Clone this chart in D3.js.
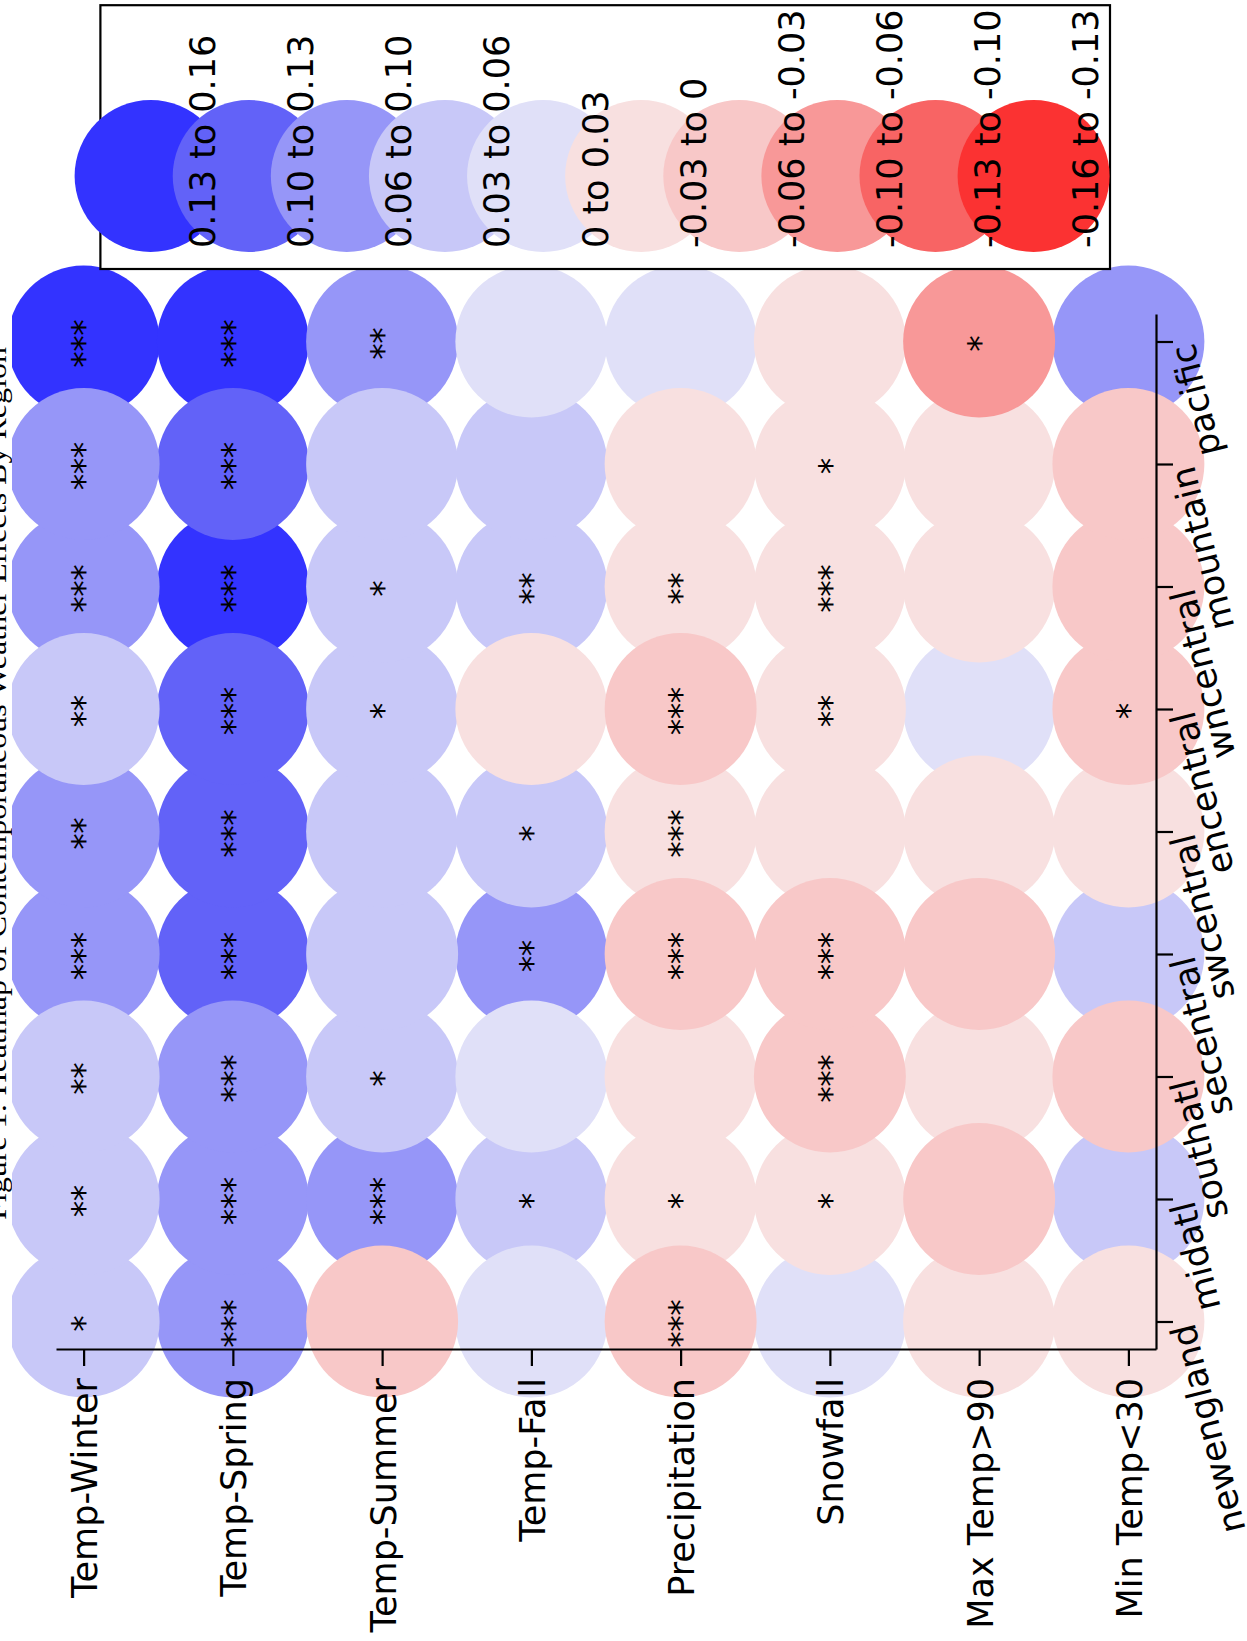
<!DOCTYPE html>
<html><head><meta charset="utf-8">
<script src="https://cdn.jsdelivr.net/npm/d3@7"></script>
<style>body{margin:0;background:#fff}svg{display:block}</style>
</head><body><svg id="c" width="1247" height="1641"></svg>
<script>
// ---- data ----
const variables = ["Temp-Winter","Temp-Spring","Temp-Summer","Temp-Fall","Precipitation","Snowfall","Max Temp>90","Min Temp<30"];
const regions = ["newengland","midatl","southatl","secentral","swcentral","encentral","wncentral","mountain","pacific"];
const binLabels = ["0.13 to 0.16","0.10 to 0.13","0.06 to 0.10","0.03 to 0.06","0 to 0.03","-0.03 to 0","-0.06 to -0.03","-0.10 to -0.06","-0.13 to -0.10","-0.16 to -0.13"];
const binMids = [0.145,0.115,0.08,0.045,0.015,-0.015,-0.045,-0.08,-0.115,-0.145];
const binThresholds = [-0.13,-0.10,-0.06,-0.03,0,0.03,0.06,0.10,0.13];
const binColors = ["#3333FF","#6262F8","#9696F8","#C8C8F8","#E0E0F8","#F8E0E0","#F8C8C8","#F89898","#F86464","#FB3232"];
// estimated effects per variable, in region order (newengland ... pacific)
const tempWinter    = [0.045,0.045,0.045,0.08,0.08,0.045,0.08,0.08,0.145];
const tempSpring    = [0.08,0.08,0.08,0.115,0.115,0.115,0.145,0.115,0.145];
const tempSummer    = [-0.045,0.08,0.045,0.045,0.045,0.045,0.045,0.045,0.08];
const tempFall      = [0.015,0.045,0.015,0.08,0.045,-0.015,0.045,0.045,0.015];
const precipitation = [-0.045,-0.015,-0.015,-0.045,-0.015,-0.045,-0.015,-0.015,0.015];
const snowfall      = [0.015,-0.015,-0.045,-0.045,-0.015,-0.015,-0.015,-0.015,-0.015];
const maxTemp90     = [-0.015,-0.045,-0.015,-0.045,-0.015,0.015,-0.015,-0.015,-0.08];
const minTemp30     = [-0.015,0.045,-0.045,0.045,-0.015,-0.045,-0.045,-0.045,0.08];
// significance stars per variable, region order
const starsWinter = [1,2,2,3,2,2,3,3,3];
const starsSpring = [3,3,3,3,3,3,3,3,3];
const starsSummer = [0,3,1,0,0,1,1,0,2];
const starsFall   = [0,1,0,2,1,0,2,0,0];
const starsPrecip = [3,1,0,3,3,3,2,0,0];
const starsSnow   = [0,1,3,3,0,2,3,1,0];
const starsMax90  = [0,0,0,0,0,0,0,0,1];
const starsMin30  = [0,0,0,0,0,1,0,0,0];
const title = "Figure 1: Heatmap of Contemporaneous Weather Effects By Region";

const valueTable = [tempWinter,tempSpring,tempSummer,tempFall,precipitation,snowfall,maxTemp90,minTemp30];
const starTable = [starsWinter,starsSpring,starsSummer,starsFall,starsPrecip,starsSnow,starsMax90,starsMin30];

const cells = [];
variables.forEach((v,i)=>regions.forEach((r,j)=>cells.push({v, r, value:valueTable[i][j], stars:starTable[i][j]})));

// ---- scales ----
const svg = d3.select("#c");
const x = d3.scalePoint().domain(variables).range([56,1156]).padding(0.185);
const y = d3.scalePoint().domain(regions).range([1349,314]).padding(0.2245);
const color = d3.scaleThreshold().domain(binThresholds).range(binColors.slice().reverse());
const R = 76;
const FONT = "'DejaVu Sans', sans-serif";

svg.append("defs").append("clipPath").attr("id","clip")
  .append("rect").attr("x",12).attr("y",0).attr("width",1235).attr("height",1641);

// title (mostly cut off at the left edge)
svg.append("text").text(title)
  .attr("transform","translate(6,783.5) rotate(-90)")
  .attr("text-anchor","middle")
  .attr("textLength",873).attr("lengthAdjust","spacingAndGlyphs")
  .style("font-family","'Liberation Serif', 'DejaVu Serif', serif").style("font-size","28px");

// circles, drawn bin by bin (highest value first)
const sorted = cells.slice().sort((a,b)=>d3.descending(a.value,b.value));
svg.append("g").attr("clip-path","url(#clip)")
  .selectAll("circle").data(sorted).join("circle")
  .attr("cx",d=>x(d.v)).attr("cy",d=>y(d.r)).attr("r",R)
  .attr("fill",d=>color(d.value));

// stars
const starData = [];
cells.forEach(c=>{for(let k=0;k<c.stars;k++) starData.push({c, k});});
const SP = 16;
svg.append("g").selectAll("text").data(starData).join("text")
  .text("*")
  .attr("transform",d=>`translate(${x(d.c.v)+12.8},${y(d.c.r)+2+(d.k-(d.c.stars-1)/2)*SP}) rotate(-90)`)
  .attr("text-anchor","middle")
  .style("font-family",FONT).style("font-size","33px");

// axes
const gx = svg.append("g").attr("transform","translate(0,1349)")
  .call(d3.axisBottom(x).tickSize(17).tickSizeOuter(0));
const gy = svg.append("g").attr("transform","translate(1156,0)")
  .call(d3.axisRight(y).tickSize(17).tickSizeOuter(0));
[gx,gy].forEach(g=>{
  g.select(".domain").attr("stroke","#000").attr("stroke-width",2.2);
  g.selectAll(".tick line").attr("stroke","#000").attr("stroke-width",2.2);
  g.selectAll(".tick text").attr("fill","#000").style("font-family",FONT).style("font-size","35px")
    .attr("x",0).attr("y",0).attr("dy",null);
});
gx.selectAll(".tick text").attr("text-anchor","end").attr("transform","translate(13,29) rotate(-90)");
gy.selectAll(".tick text").attr("text-anchor","end").attr("transform","translate(38,0) rotate(-104)");

// legend
const lx = d3.scalePoint().domain(binLabels).range([150.6,1033.6]);
const lg = svg.append("g");
lg.append("rect").attr("x",100.4).attr("y",5.2).attr("width",1009.6).attr("height",263.8)
  .attr("fill","#fff").attr("stroke","#000").attr("stroke-width",2.2);
lg.selectAll("circle").data(binLabels).join("circle")
  .attr("cx",d=>lx(d)).attr("cy",176).attr("r",R)
  .attr("fill",(d,i)=>color(binMids[i]));
lg.selectAll("text").data(binLabels).join("text")
  .text(d=>d)
  .attr("transform",d=>`translate(${lx(d)+64.5},248) rotate(-90)`)
  .attr("text-anchor","start")
  .style("font-family",FONT).style("font-size","35px");
</script></body></html>
